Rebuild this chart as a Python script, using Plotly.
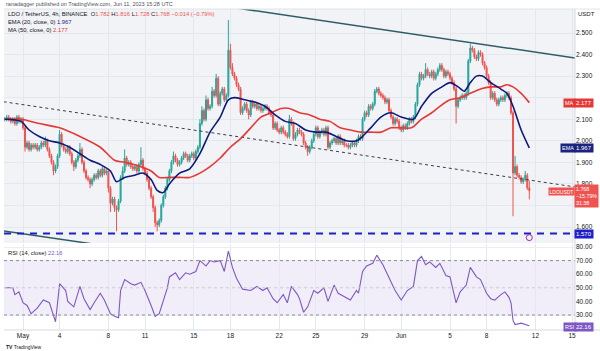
import plotly.graph_objects as go
import pandas as pd

W, H = 600, 351

# ---------------- data ----------------
start_time = "2023-04-29 12:00"   # first 4h candle
first_open = 2.10

# closes, one row per day (4h candles)
close_rows = [
    [2.10, 2.11, 2.10],                              # Apr 29 (12h-20h)
    [2.09, 2.10, 2.08, 2.11, 2.09, 2.10],            # Apr 30
    [2.06, 1.97, 1.99, 1.96, 1.98, 1.97],            # May 1
    [1.98, 1.96, 1.97, 1.99, 1.98, 2.00],            # May 2
    [1.96, 1.93, 1.90, 1.86, 1.88, 1.93],            # May 3
    [2.03, 1.98, 1.96, 1.95, 1.97, 1.94],            # May 4
    [1.90, 1.88, 1.91, 1.93, 1.96, 1.90],            # May 5
    [1.86, 1.83, 1.82, 1.80, 1.82, 1.84],            # May 6
    [1.83, 1.86, 1.84, 1.87, 1.85, 1.86],            # May 7
    [1.78, 1.71, 1.73, 1.69, 1.68, 1.72],            # May 8
    [1.83, 1.86, 1.92, 1.89, 1.90, 1.88],            # May 9
    [1.87, 1.88, 1.86, 1.89, 1.91, 1.87],            # May 10
    [1.85, 1.82, 1.78, 1.74, 1.69, 1.62],            # May 11
    [1.61, 1.63, 1.70, 1.74, 1.78, 1.82],            # May 12
    [1.86, 1.90, 1.93, 1.91, 1.89, 1.90],            # May 13
    [1.92, 1.94, 1.93, 1.91, 1.93, 1.94],            # May 14
    [1.92, 1.95, 1.97, 2.08, 2.14, 2.10],            # May 15
    [2.19, 2.15, 2.16, 2.23, 2.21, 2.29],            # May 16
    [2.17, 2.22, 2.24, 2.19, 2.21, 2.42],            # May 17
    [2.34, 2.31, 2.29, 2.26, 2.24, 2.13],            # May 18
    [2.15, 2.17, 2.14, 2.12, 2.18, 2.16],            # May 19
    [2.17, 2.15, 2.16, 2.14, 2.15, 2.16],            # May 20
    [2.15, 2.13, 2.12, 2.06, 2.08, 2.05],            # May 21
    [2.04, 2.06, 2.04, 2.03, 2.02, 2.10],            # May 22
    [2.08, 2.01, 2.03, 2.05, 2.04, 2.03],            # May 23
    [1.99, 1.97, 1.95, 1.97, 2.00, 2.03],            # May 24
    [2.06, 2.02, 2.04, 2.05, 2.03, 2.06],            # May 25
    [1.97, 1.99, 2.00, 2.01, 1.99, 2.02],            # May 26
    [1.99, 2.00, 1.98, 1.98, 1.97, 1.98],            # May 27
    [1.99, 1.98, 2.00, 2.02, 2.01, 2.10],            # May 28
    [2.13, 2.12, 2.16, 2.15, 2.17, 2.23],            # May 29
    [2.24, 2.22, 2.21, 2.20, 2.18, 2.19],            # May 30
    [2.14, 2.11, 2.08, 2.10, 2.09, 2.06],            # May 31
    [2.05, 2.07, 2.06, 2.08, 2.10, 2.09],            # Jun 1
    [2.11, 2.17, 2.26, 2.31, 2.29, 2.30],            # Jun 2
    [2.33, 2.31, 2.30, 2.32, 2.29, 2.31],            # Jun 3
    [2.33, 2.35, 2.33, 2.30, 2.32, 2.31],            # Jun 4
    [2.29, 2.27, 2.24, 2.16, 2.19, 2.20],            # Jun 5
    [2.21, 2.20, 2.22, 2.37, 2.43, 2.42],            # Jun 6
    [2.39, 2.38, 2.41, 2.40, 2.36, 2.34],            # Jun 7
    [2.30, 2.27, 2.20, 2.22, 2.19, 2.17],            # Jun 8
    [2.19, 2.20, 2.19, 2.21, 2.22, 2.20],            # Jun 9
    [2.13, 1.85, 1.88, 1.84, 1.83, 1.81],            # Jun 10
    [1.82, 1.84, 1.782, 1.768],                      # Jun 11
]

# upper / lower wick lengths in cents (0.01 USDT), same layout
wick_up_rows = [
    [1, 1, 1], [1, 1, 1, 1, 1, 1],
    [1, 1, 1, 1, 1, 1], [1, 1, 1, 1, 1, 2], [1, 1, 1, 1, 1, 1], [2, 1, 1, 1, 1, 1],
    [1, 1, 1, 1, 3, 1], [1, 1, 1, 1, 1, 1], [1, 1, 1, 1, 1, 1], [1, 1, 1, 1, 1, 1],
    [1, 2, 4, 1, 1, 1], [1, 1, 1, 1, 6, 1], [1, 1, 1, 1, 1, 1], [1, 1, 1, 1, 1, 1],
    [1, 1, 2, 1, 1, 1], [1, 1, 1, 1, 1, 1], [1, 1, 1, 2, 2, 1], [2, 1, 1, 2, 1, 2],
    [1, 1, 1, 1, 1, 14], [3, 2, 1, 1, 1, 1], [1, 1, 1, 1, 1, 1], [1, 1, 1, 1, 1, 1],
    [1, 1, 1, 1, 1, 1], [1, 1, 1, 1, 1, 2], [1, 1, 1, 1, 1, 1], [1, 1, 1, 1, 1, 1],
    [1, 1, 1, 1, 1, 1], [1, 1, 1, 1, 1, 1], [1, 1, 1, 1, 1, 1], [1, 1, 1, 1, 1, 1],
    [1, 1, 1, 1, 1, 1], [1, 1, 1, 1, 1, 1], [1, 1, 1, 1, 1, 1],
    [1, 1, 1, 1, 1, 1], [1, 1, 1, 1, 1, 1], [3, 1, 1, 1, 1, 1], [1, 1, 1, 1, 1, 1],
    [1, 1, 1, 1, 1, 1], [1, 1, 1, 1, 2, 1], [1, 1, 1, 1, 1, 1], [1, 1, 1, 1, 1, 1],
    [1, 1, 1, 1, 1, 1], [1, 1, 5, 1, 1, 1], [1, 2, 1, 3.4],
]
wick_dn_rows = [
    [1, 1, 1], [1, 1, 1, 1, 1, 1],
    [1, 2, 1, 1, 1, 1], [1, 1, 1, 1, 1, 1], [1, 1, 1, 2, 1, 1], [1, 1, 1, 1, 1, 1],
    [1, 2, 1, 1, 1, 1], [1, 1, 1, 2, 1, 1], [1, 1, 1, 1, 1, 1], [2, 4, 1, 2, 10, 1],
    [1, 1, 1, 1, 1, 1], [1, 1, 1, 1, 1, 1], [1, 1, 1, 1, 2, 2], [3, 1, 1, 1, 1, 1],
    [1, 1, 1, 1, 1, 1], [1, 1, 1, 1, 1, 1], [1, 1, 1, 1, 1, 1], [1, 1, 1, 1, 1, 1],
    [1, 1, 1, 1, 1, 1], [1, 1, 1, 1, 1, 1], [1, 1, 1, 2, 1, 1], [1, 1, 1, 1, 1, 1],
    [1, 1, 1, 1, 1, 1], [1, 1, 1, 1, 1, 1], [1, 1, 1, 1, 1, 1], [1, 1, 2, 1, 1, 1],
    [1, 1, 1, 1, 1, 1], [1, 1, 1, 1, 1, 1], [1, 1, 1, 1, 1, 1], [1, 1, 1, 1, 1, 1],
    [1, 1, 1, 1, 1, 1], [1, 1, 1, 1, 1, 1], [1, 1, 1, 1, 1, 1],
    [1, 1, 1, 1, 1, 1], [1, 1, 1, 1, 1, 1], [1, 1, 1, 1, 1, 1], [1, 1, 1, 1, 1, 1],
    [1, 1, 1, 8, 1, 1], [1, 1, 1, 1, 1, 1], [1, 1, 1, 1, 1, 1], [1, 1, 1, 1, 1, 1],
    [1, 1, 1, 1, 1, 1], [1, 20, 1, 1, 1, 1], [1, 1, 1, 4.0],
]

# EMA(20): candle index -> value
ema_idx = [0, 8, 12, 17, 22, 27, 32, 37, 42, 47, 52, 55, 59, 64, 68, 72, 75, 78, 81, 86, 91, 96,
           101, 106, 110, 113, 118, 123, 128, 133, 138, 143, 148, 153, 158, 163, 168, 173, 176,
           180, 185, 190, 195, 201, 205, 210, 215, 219, 223, 226, 229, 232, 235, 239, 244, 247,
           250, 254, 258]
ema_val = [2.10, 2.09, 2.05, 2.02, 2.00, 1.99, 1.97, 1.94, 1.91, 1.89, 1.86, 1.81, 1.83, 1.84,
           1.85, 1.82, 1.77, 1.76, 1.80, 1.85, 1.87, 1.94, 2.04, 2.11, 2.19, 2.20, 2.19, 2.18,
           2.16, 2.12, 2.09, 2.08, 2.05, 2.04, 2.04, 2.02, 2.00, 2.00, 2.02, 2.06, 2.11, 2.13,
           2.11, 2.10, 2.16, 2.22, 2.25, 2.27, 2.25, 2.23, 2.27, 2.30, 2.30, 2.27, 2.24, 2.22,
           2.16, 2.05, 1.967]

# MA(50)
ma_idx = [0, 8, 17, 27, 37, 47, 54, 59, 67, 72, 76, 81, 86, 91, 96, 101, 106, 111, 116, 121,
          126, 131, 136, 140, 145, 150, 155, 160, 165, 170, 175, 180, 185, 190, 195, 200, 205,
          210, 214, 219, 224, 229, 234, 239, 244, 247, 250, 254, 258]
ma_val = [2.10, 2.10, 2.08, 2.06, 2.02, 1.97, 1.91, 1.90, 1.88, 1.86, 1.83, 1.83, 1.83, 1.83,
          1.85, 1.88, 1.92, 1.97, 2.01, 2.06, 2.11, 2.13, 2.15, 2.15, 2.13, 2.12, 2.10, 2.09,
          2.06, 2.05, 2.04, 2.04, 2.04, 2.06, 2.06, 2.06, 2.10, 2.13, 2.16, 2.19, 2.20, 2.22,
          2.24, 2.25, 2.25, 2.26, 2.25, 2.22, 2.177]

# RSI(14)
rsi_idx = [0, 4, 5, 7, 9, 11, 13, 16, 19, 22, 25, 27, 30, 31, 34, 37, 39, 42, 44, 47, 49, 52,
           54, 56, 57, 59, 62, 64, 67, 69, 72, 74, 76, 78, 80, 81, 84, 86, 89, 91, 94, 96, 99,
           101, 103, 106, 108, 110, 112, 114, 117, 121, 124, 127, 129, 132, 134, 137, 139, 141,
           144, 145, 147, 149, 152, 154, 157, 159, 162, 164, 168, 170, 173, 174, 176, 178, 181,
           183, 186, 188, 190, 192, 195, 198, 201, 203, 205, 207, 209, 212, 214, 217, 219, 222,
           224, 227, 229, 232, 234, 237, 239, 241, 244, 246, 248, 249, 250, 251, 254, 256, 258]
rsi_val = [50, 50, 45, 47, 39, 37, 31, 35, 41, 39, 25, 53, 48, 40, 36, 51, 42, 34, 39, 46, 41,
           31, 29, 28, 48, 56, 53, 52, 54, 48, 37, 29, 31, 41, 50, 58, 61, 56, 61, 60, 62, 70,
           66, 70, 69, 70, 62, 77, 65, 57, 49, 48, 51, 48, 50, 42, 39, 45, 39, 51, 45, 42, 32,
           36, 48, 46, 50, 40, 52, 46, 43, 41, 48, 46, 62, 66, 68, 74, 67, 61, 54, 48, 41, 48,
           51, 70, 73, 67, 69, 65, 68, 59, 58, 39, 47, 52, 65, 58, 56, 46, 42, 41, 45, 47, 43,
           39, 26, 23, 24, 23, 22.16]

# trend lines (time, price)
upper_line_t = ["2023-05-18 12:00", "2023-06-15 06:00"]
upper_line_p = [2.616, 2.384]
lower_line_t = ["2023-04-29 10:00", "2023-05-07 00:00"]
lower_line_p = [1.582, 1.519]
mid_line_t = ["2023-04-29 10:00", "2023-06-15 06:00"]
mid_line_p = [2.181, 1.786]
support_level = 1.570

price_ticks = [1.6, 1.7, 1.8, 1.9, 2.0, 2.1, 2.2, 2.3, 2.4, 2.5]
price_tick_text = ["1.600", "", "1.800", "1.900", "2.000", "2.100", "", "2.300", "2.400", "2.500"]
rsi_ticks = [30, 40, 50, 60, 70, 80]
date_ticks = ["2023-05-01", "2023-05-04", "2023-05-08", "2023-05-11", "2023-05-15",
              "2023-05-18", "2023-05-22", "2023-05-25", "2023-05-29", "2023-06-01",
              "2023-06-05", "2023-06-08", "2023-06-12", "2023-06-15"]
date_labels = ["May", "4", "8", "11", "15", "18", "22", "25", "29", "Jun", "5", "8", "12", "15"]

# ---------------- build ----------------
closes = [c for row in close_rows for c in row]
w_up = [w for row in wick_up_rows for w in row]
w_dn = [w for row in wick_dn_rows for w in row]
opens = [first_open] + closes[:-1]
highs = [max(o, c) + u / 100 for o, c, u in zip(opens, closes, w_up)]
lows = [min(o, c) - d / 100 for o, c, d in zip(opens, closes, w_dn)]
t0 = pd.Timestamp(start_time)
step = pd.Timedelta(hours=4)
times = [t0 + i * step for i in range(len(closes))]
ema_t = [t0 + i * step for i in ema_idx]
ma_t = [t0 + i * step for i in ma_idx]
rsi_t = [t0 + i * step for i in rsi_idx]


def px(x):
    return x / W


def py(y):
    return 1 - y / H


X_LEFT, X_RIGHT = 4, 575
P_TOP, P_BOT = 9, 243
R_TOP, R_BOT = 244, 330
PRICE_RANGE = [1.6 - (P_BOT - 227) / 215.6, 2.5 + (33 - P_TOP) / 215.6]
RSI_RANGE = [30 - (R_BOT - 315) / 1.36, 30 + (315 - R_TOP) / 1.36]
X_RANGE = [pd.Timestamp("2023-05-01") + pd.Timedelta(days=(X_LEFT - 23) / 12.2),
           pd.Timestamp("2023-05-01") + pd.Timedelta(days=(X_RIGHT - 23) / 12.2)]

FONT = "Liberation Sans, Arial, sans-serif"
TXT = "#131722"
GRID = "#e4e7ed"

fig = go.Figure()

fig.add_trace(go.Candlestick(
    x=times, open=opens, high=highs, low=lows, close=closes,
    increasing=dict(line=dict(color="#26a69a", width=1), fillcolor="#26a69a"),
    decreasing=dict(line=dict(color="#ef5350", width=1), fillcolor="#ef5350"),
    whiskerwidth=0, xaxis="x", yaxis="y", showlegend=False, hoverinfo="skip"))

fig.add_trace(go.Scatter(x=mid_line_t, y=mid_line_p, mode="lines",
                         line=dict(color="#3a3d45", width=1, dash="3px,3px"),
                         xaxis="x", yaxis="y", showlegend=False, hoverinfo="skip"))
fig.add_trace(go.Scatter(x=upper_line_t, y=upper_line_p, mode="lines",
                         line=dict(color="#2f5d66", width=1.5),
                         xaxis="x", yaxis="y", showlegend=False, hoverinfo="skip"))
fig.add_trace(go.Scatter(x=lower_line_t, y=lower_line_p, mode="lines",
                         line=dict(color="#2f5d66", width=1.5),
                         xaxis="x", yaxis="y", showlegend=False, hoverinfo="skip"))
fig.add_trace(go.Scatter(x=ma_t, y=ma_val, mode="lines",
                         line=dict(color="#e53935", width=1.6, shape="spline", smoothing=0.8),
                         xaxis="x", yaxis="y", showlegend=False, hoverinfo="skip"))
fig.add_trace(go.Scatter(x=ema_t, y=ema_val, mode="lines",
                         line=dict(color="#0d1a7a", width=1.6, shape="spline", smoothing=0.8),
                         xaxis="x", yaxis="y", showlegend=False, hoverinfo="skip"))
fig.add_trace(go.Scatter(x=[X_RANGE[0], X_RANGE[1]], y=[support_level, support_level], mode="lines",
                         line=dict(color="#1f1fc8", width=2, dash="7px,6px"),
                         xaxis="x", yaxis="y", showlegend=False, hoverinfo="skip"))
fig.add_trace(go.Scatter(x=[times[-1]], y=[PRICE_RANGE[0] + 0.025], mode="markers",
                         marker=dict(symbol="circle-open", size=6, color="#9c27b0", line=dict(width=1)),
                         xaxis="x", yaxis="y", showlegend=False, hoverinfo="skip", cliponaxis=False))

fig.add_trace(go.Scatter(x=rsi_t, y=rsi_val, mode="lines",
                         line=dict(color="#7e57c2", width=1.1),
                         xaxis="x2", yaxis="y2", showlegend=False, hoverinfo="skip"))

shapes = [
    # price pane background
    dict(type="rect", xref="paper", yref="paper", x0=px(X_LEFT), x1=px(X_RIGHT),
         y0=py(P_BOT), y1=py(P_TOP), fillcolor="#f1f3f6", line=dict(width=0), layer="below"),
    # RSI band
    dict(type="rect", xref="paper", yref="y2", x0=px(X_LEFT), x1=px(X_RIGHT), y0=30, y1=70,
         fillcolor="rgba(126,87,194,0.10)", line=dict(width=0), layer="below"),
    dict(type="line", xref="paper", yref="y2", x0=px(X_LEFT), x1=px(X_RIGHT), y0=70, y1=70,
         line=dict(color="#8a8d96", width=1, dash="3px,3px")),
    dict(type="line", xref="paper", yref="y2", x0=px(X_LEFT), x1=px(X_RIGHT), y0=30, y1=30,
         line=dict(color="#8a8d96", width=1, dash="3px,3px")),
    dict(type="line", xref="paper", yref="y2", x0=px(X_LEFT), x1=px(X_RIGHT), y0=50, y1=50,
         line=dict(color="#c9cbd2", width=1, dash="3px,3px")),
    # pane borders
    dict(type="line", xref="paper", yref="paper", x0=px(X_RIGHT), x1=px(X_RIGHT),
         y0=py(R_BOT), y1=py(P_TOP), line=dict(color="#d6d9e0", width=1)),
    dict(type="line", xref="paper", yref="paper", x0=px(X_LEFT), x1=1,
         y0=py(R_BOT), y1=py(R_BOT), line=dict(color="#d6d9e0", width=1)),
    dict(type="line", xref="paper", yref="paper", x0=px(X_LEFT), x1=1,
         y0=py(P_TOP), y1=py(P_TOP), line=dict(color="#e0e3ea", width=1)),
]


def ann(x, y, text, size=6, color=TXT, xanchor="left", bg=None, pad=0):
    d = dict(x=px(x), y=py(y), xref="paper", yref="paper", text=text, showarrow=False,
             xanchor=xanchor, yanchor="middle", align="left",
             font=dict(family=FONT, size=size, color=color), borderpad=pad)
    if bg:
        d["bgcolor"] = bg
    return d


RED = "#ef5350"
annotations = [
    ann(5, 3.5, "ranadagger published on TradingView.com, Jun 11, 2023 15:28 UTC", 5.5, "#50535e"),
    ann(7, 14, "LDO / TetherUS, 4h, BINANCE  "
        f"O<span style='color:{RED}'>1.782</span> H<span style='color:{RED}'>1.816</span> "
        f"L<span style='color:{RED}'>1.728</span> C<span style='color:{RED}'>1.768</span> "
        f"<span style='color:{RED}'>−0.014 (−0.79%)</span>", 5.8),
    ann(7, 22, "EMA (20, close, 0) <span style='color:#1a237e'>1.967</span>", 5.8),
    ann(7, 29.5, "MA (50, close, 0) <span style='color:#e53935'>2.177</span>", 5.8),
    ann(7, 253, "RSI (14, close) <span style='color:#7e57c2'>22.16</span>", 5.8),
    ann(577, 14, "USDT", 6),
    ann(5, 347, "<b>TV</b> TradingView", 5, "#131722"),
    # right axis badges
    ann(563, 102.5, "MA", 5.5, "white", bg="#e53935", pad=1),
    ann(574, 102.5, "2.177", 6, "white", bg="#e53935", pad=1),
    ann(560, 147.5, "EMA", 5.5, "white", bg="#1a237e", pad=1),
    ann(574, 147.5, "1.967", 6, "white", bg="#1a237e", pad=1),
    ann(548, 191, "LDOUSDT", 5, "white", bg="#ef5350", pad=0.5),
    ann(574, 196, "1.768<br>−15.79%<br>31:38", 5.3, "white", bg="#ef5350", pad=1),
    ann(574, 233.5, "1.570", 6, "white", bg="#1f1fc8", pad=1),
    ann(563, 326.5, "RSI", 5.5, "white", bg="#7e57c2", pad=1),
    ann(574, 326.5, "22.16", 6, "white", bg="#7e57c2", pad=1),
]

fig.update_layout(
    width=W, height=H, margin=dict(l=0, r=0, t=0, b=0),
    paper_bgcolor="white", plot_bgcolor="rgba(0,0,0,0)",
    font=dict(family=FONT, size=6.5, color=TXT),
    showlegend=False,
    shapes=shapes, annotations=annotations,
    xaxis=dict(domain=[px(X_LEFT), px(X_RIGHT)], anchor="y", range=X_RANGE,
               rangeslider=dict(visible=False), showticklabels=False,
               tickvals=date_ticks, showgrid=True, gridcolor=GRID, gridwidth=1,
               zeroline=False, showline=False, ticks=""),
    xaxis2=dict(domain=[px(X_LEFT), px(X_RIGHT)], anchor="y2", range=X_RANGE, matches="x",
                tickvals=date_ticks, ticktext=date_labels, showgrid=True, gridcolor=GRID,
                tickfont=dict(size=6.5, color=TXT), zeroline=False, showline=False, ticks=""),
    yaxis=dict(domain=[py(P_BOT), py(P_TOP)], anchor="x", range=PRICE_RANGE, side="right",
               tickvals=price_ticks, ticktext=price_tick_text,
               showgrid=True, gridcolor=GRID, zeroline=False, ticks="",
               tickfont=dict(size=6.5, color=TXT)),
    yaxis2=dict(domain=[py(R_BOT), py(R_TOP)], anchor="x2", range=RSI_RANGE, side="right",
                tickvals=rsi_ticks, ticktext=[f"{v:.2f}" for v in rsi_ticks],
                showgrid=True, gridcolor="#eceef2", zeroline=False, ticks="",
                tickfont=dict(size=6.5, color=TXT)),
)

fig.write_html("out.html")
